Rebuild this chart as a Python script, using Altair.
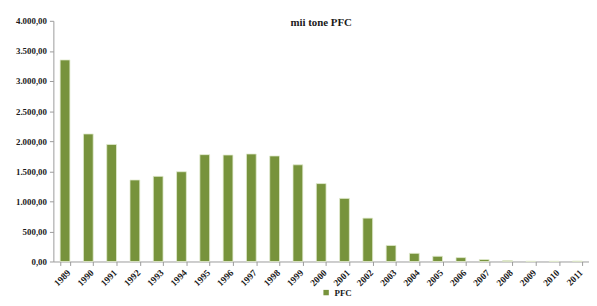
import altair as alt
import pandas as pd

years = [str(y) for y in range(1989, 2012)]
values = [3350, 2120, 1946, 1355, 1415, 1492, 1776, 1770, 1787, 1754, 1607, 1295,
          1049, 721, 267, 136, 87, 65, 33, 15, 5, 5, 8]
series = ["PFC"] * len(years)

df = pd.DataFrame({"year": years, "value": values, "series": series})

font = "Liberation Serif"

chart = alt.Chart(df, title=alt.Title("mii tone PFC", fontSize=11, font=font, fontWeight="bold",
                                      color="#1a1a1a", dy=15, anchor="middle")).mark_bar(
    color="#77933C", stroke="#e3ecd0", strokeWidth=0.8
).encode(
    x=alt.X("year:N", sort=years, title=None,
            scale=alt.Scale(paddingInner=0.58, paddingOuter=0.29),
            axis=alt.Axis(labelAngle=-45, labelFont=font, labelFontWeight="bold", labelFontSize=9.5,
                          labelColor="#1a1a1a", domainColor="#9a9a9a", tickColor="#9a9a9a",
                          tickBand="extent", tickSize=4, labelPadding=2)),
    y=alt.Y("value:Q", title=None,
            scale=alt.Scale(domain=[0, 4000]),
            axis=alt.Axis(values=[0, 500, 1000, 1500, 2000, 2500, 3000, 3500, 4000], grid=False,
                          labelExpr="replace(replace(replace(format(datum.value, ',.2f'), '.', ';'), ',', '.'), ';', ',')",
                          labelFont=font, labelFontWeight="bold", labelFontSize=9, labelColor="#1a1a1a",
                          domainColor="#9a9a9a", tickColor="#9a9a9a", tickSize=4, labelPadding=3)),
    fill=alt.Fill("series:N", scale=alt.Scale(range=["#77933C"]), title=None,
                  legend=alt.Legend(orient="none", legendX=272, legendY=271, symbolType="square",
                                    symbolSize=30, labelFont=font, labelFontWeight="bold",
                                    labelFontSize=9, labelColor="#1a1a1a", symbolStrokeWidth=0))
).properties(
    width=543, height=244,
    autosize=alt.AutoSizeParams(type="none"),
    padding={"left": 46, "top": 11, "right": 0, "bottom": 35}
).configure_view(stroke=None)

chart.save("out.html", embed_options={"renderer": "svg", "actions": False})
